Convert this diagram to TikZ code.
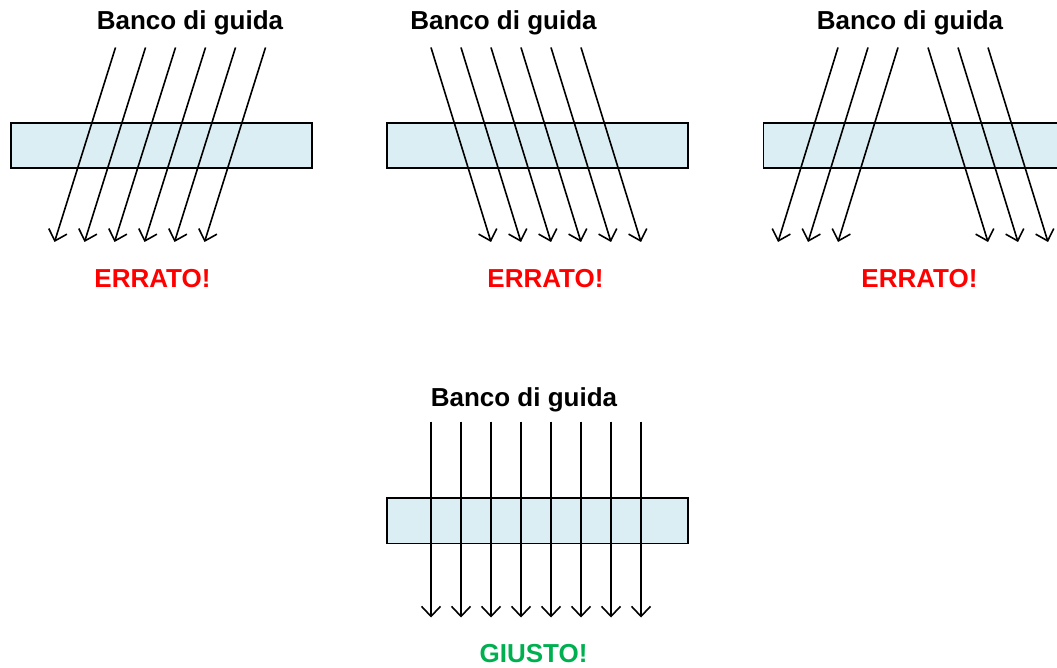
\documentclass[tikz,border=0pt]{standalone}
\usepackage{fontspec}
\setmainfont{Liberation Sans}
\usetikzlibrary{arrows.meta}
\definecolor{boxfill}{HTML}{DAEEF3}
\definecolor{okgreen}{HTML}{00B050}
\begin{document}
\begin{tikzpicture}[x=1pt,y=-1pt,
  bank/.style={draw=black,line width=1.6pt,fill=boxfill,minimum width=301pt,minimum height=45pt,inner sep=0pt,anchor=north west},
  ray/.style={line width=1.6pt,-{Straight Barb[length=10pt,width=19pt,line width=1.6pt]}},
  title/.style={font=\fontsize{26}{30}\selectfont\bfseries,anchor=base,inner sep=0pt},
  verdict/.style={font=\fontsize{26}{30}\selectfont\bfseries,anchor=base,inner sep=0pt}]
\useasboundingbox (0,0) rectangle (1057,668);
\clip (0,0) rectangle (1057,668);
% panel 1
\node[bank] (b1) at (10,122.5) {};
\node[title] (t1) at (190,29.5) {Banco di guida};
\node[verdict,text=red] (v1) at (152.5,287.5) {ERRATO!};
\foreach \i in {0,...,5}{
  \coordinate (s1\i) at (115.5+30*\i,47.5);
  \coordinate (e1\i) at (54.5+30*\i,242);
  \draw[ray] (s1\i) -- (e1\i);
}
% panel 2
\node[bank] (b2) at (386,122.5) {};
\node[title] (t2) at (503.5,29.5) {Banco di guida};
\node[verdict,text=red] (v2) at (545.5,287.5) {ERRATO!};
\foreach \i in {0,...,5}{
  \coordinate (s2\i) at (431+30*\i,47.5);
  \coordinate (e2\i) at (491+30*\i,242);
  \draw[ray] (s2\i) -- (e2\i);
}
% panel 3
\node[bank] (b3) at (762.5,122.5) {};
\node[title] (t3) at (910,29.5) {Banco di guida};
\node[verdict,text=red] (v3) at (919.5,287.5) {ERRATO!};
\foreach \i in {0,1,2}{
  \coordinate (sl\i) at (838+30*\i,47.5);
  \coordinate (el\i) at (778+30*\i,242);
  \draw[ray] (sl\i) -- (el\i);
  \coordinate (sr\i) at (928+30*\i,47.5);
  \coordinate (er\i) at (988+30*\i,242);
  \draw[ray] (sr\i) -- (er\i);
}
% panel 4
\node[bank,minimum height=45.5pt] (b4) at (386,497) {};
\node[title] (t4) at (524,406) {Banco di guida};
\node[verdict,text=okgreen] (v4) at (533.5,662) {GIUSTO!};
\foreach \i in {0,...,7}{
  \coordinate (s4\i) at (431+30*\i,421.5);
  \coordinate (e4\i) at (431+30*\i,617.5);
  \draw[ray] (s4\i) -- (e4\i);
}
\end{tikzpicture}
\end{document}
